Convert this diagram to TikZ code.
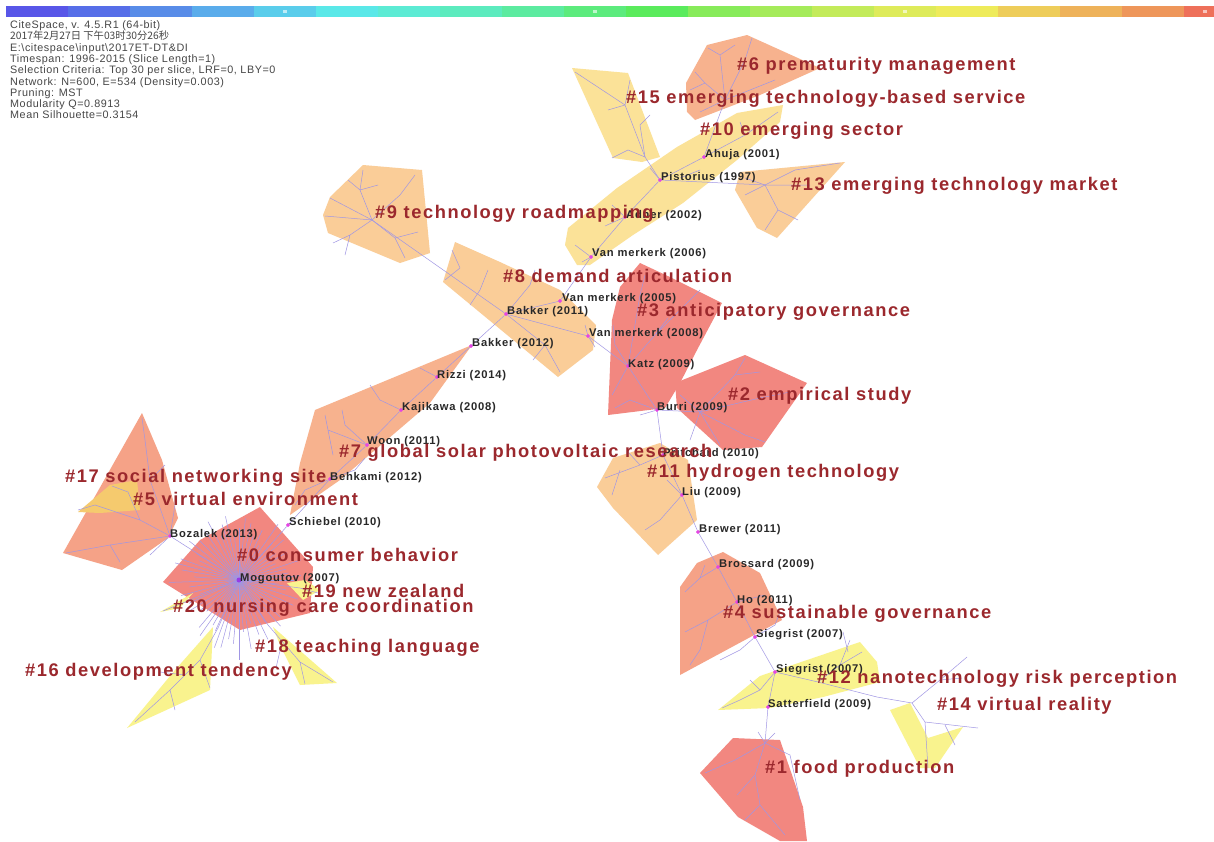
\documentclass[tikz,border=0pt]{standalone}
\usepackage{fontspec}
\setmainfont{Liberation Sans}
\newfontfamily\lblfam[LetterSpace=8.5]{Liberation Sans}
\newfontfamily\nodefam[LetterSpace=7]{Liberation Sans}
\newfontfamily\hdrfam[LetterSpace=5]{Liberation Sans}
\newfontfamily\cjkfam{Noto Sans CJK SC}

\definecolor{labred}{RGB}{155,40,45}
\definecolor{hdrgray}{RGB}{70,70,70}
\definecolor{nodetext}{RGB}{40,40,40}
\definecolor{edgec}{RGB}{160,150,228}
\definecolor{dotc}{RGB}{228,70,228}
\definecolor{hubc}{RGB}{150,60,230}
\definecolor{hred}{RGB}{242,135,128}
\definecolor{hsalmon}{RGB}{245,162,135}
\definecolor{horange}{RGB}{247,178,142}
\definecolor{hpeach}{RGB}{250,205,152}
\definecolor{hlight}{RGB}{251,226,152}
\definecolor{hyellow}{RGB}{249,243,142}
\definecolor{hamber}{RGB}{245,202,110}

\begin{document}
\begin{tikzpicture}[x=1pt,y=-1pt,
  edge/.style={draw=edgec,line width=0.5pt},
  dot/.style={circle,fill=dotc,inner sep=0pt,minimum size=3.6pt},
  hubdot/.style={circle,fill=hubc,inner sep=0pt,minimum size=5pt},
  nlabel/.style={anchor=base west,inner sep=0pt,text=nodetext,
    font=\nodefam\bfseries\fontsize{11.2}{12}\selectfont},
  clabel/.style={anchor=base west,inner sep=0pt,text=labred,
    font=\lblfam\bfseries\fontsize{18.3}{20}\selectfont},
  hdr/.style={anchor=base west,inner sep=0pt,text=hdrgray,
    font=\hdrfam\fontsize{10.8}{11}\selectfont}]

\path[use as bounding box,fill=white] (0,0) rectangle (1214,841);

% ---------- colour scale ----------
\foreach \r/\g/\b [count=\i from 0] in {88/86/232,86/110/232,88/140/232,90/172/235,90/205/235,
   90/232/232,92/235/212,92/235/190,92/235/160,92/235/125,90/235/92,135/235/90,165/235/90,
   195/235/90,222/235/90,238/235/90,238/205/90,238/178/90,238/150/90,238/112/90}{
  \definecolor{barc}{RGB}{\r,\g,\b}
  \fill[barc] ({6+62*\i},6) rectangle ({min(6+62*(\i+1),1214)},17);
}
\foreach \x in {285,595,905,1205}
  \fill[white,opacity=0.6] (\x-2,10) rectangle (\x+2,13);

% ---------- header ----------
\node[hdr] (h1) at (10,28.5) {CiteSpace, v. 4.5.R1 (64-bit)};
\node[anchor=base west,inner sep=0pt,text=hdrgray,font=\cjkfam\fontsize{10.3}{11}\selectfont] (h2) at (10,39.8) {2017年2月27日 下午03时30分26秒};
\node[hdr] (h3) at (10,51.1) {E:\textbackslash citespace\textbackslash input\textbackslash 2017ET-DT\&DI};
\node[hdr] (h4) at (10,62.4) {Timespan: 1996-2015 (Slice Length=1)};
\node[hdr] (h5) at (10,73.7) {Selection Criteria: Top 30 per slice, LRF=0, LBY=0};
\node[hdr] (h6) at (10,85) {Network: N=600, E=534 (Density=0.003)};
\node[hdr] (h7) at (10,96.3) {Pruning: MST};
\node[hdr] (h8) at (10,107.6) {Modularity Q=0.8913};
\node[hdr] (h9) at (10,118.9) {Mean Silhouette=0.3154};

% ---------- cluster hulls ----------
\fill[hlight]  (572,68) -- (628,73) -- (660,157) -- (642,162) -- (613,158) -- cycle;        % 15
\fill[horange] (707,45) -- (747,35) -- (820,68) -- (760,95) -- (695,120) -- (687,112) -- (686,83) -- cycle; % 6
\fill[hlight]  (568,228) -- (617,188) -- (677,147) -- (737,113) -- (783,105) -- (780,122) -- (737,160) -- (683,203) -- (633,235) -- (590,265) -- (577,265) -- (565,245) -- cycle; % 10
\fill[hpeach]  (740,172) -- (845,162) -- (777,238) -- (757,228) -- (735,190) -- cycle;      % 13
\fill[hpeach]  (363,165) -- (422,170) -- (430,253) -- (400,263) -- (328,233) -- (323,215) -- (330,197) -- cycle; % 9
\fill[hpeach]  (455,242) -- (500,262) -- (560,290) -- (596,325) -- (593,350) -- (558,377) -- (443,282) -- cycle; % 8
\fill[hred]    (640,263) -- (672,278) -- (722,303) -- (697,350) -- (680,383) -- (665,408) -- (608,415) -- (612,320) -- (620,287) -- cycle; % 3
\fill[hred]    (675,383) -- (745,355) -- (807,383) -- (762,447) -- (723,450) -- (677,408) -- cycle; % 2
\fill[hpeach]  (660,443) -- (688,460) -- (697,520) -- (658,555) -- (613,508) -- (597,487) -- (613,458) -- cycle; % 11
\fill[hsalmon] (680,587) -- (697,563) -- (723,552) -- (760,573) -- (782,620) -- (680,675) -- cycle; % 4
\fill[hyellow] (718,710) -- (760,676) -- (860,642) -- (877,662) -- (880,682) -- (823,697) -- (770,708) -- cycle; % 12
\fill[hyellow] (890,710) -- (910,703) -- (928,738) -- (963,727) -- (935,768) -- (920,768) -- cycle; % 14
\fill[hred]    (733,738) -- (780,740) -- (803,807) -- (807,841) -- (780,841) -- (738,817) -- (700,773) -- cycle; % 1
\fill[horange] (472,345) -- (315,410) -- (300,463) -- (290,515) -- (340,480) -- (430,403) -- cycle; % 7
\fill[hsalmon] (142,413) -- (162,460) -- (178,518) -- (168,538) -- (122,570) -- (63,553) -- cycle; % 17
\fill[hamber]  (78,512) -- (110,485) -- (137,480) -- (140,510) -- (100,513) -- cycle;        % 5
\fill[hred]    (260,507) -- (313,567) -- (310,613) -- (240,630) -- (163,582) -- (200,540) -- cycle; % 0
\fill[hyellow] (287,583) -- (305,580) -- (320,590) -- (303,600) -- cycle;                    % 19
\fill[hyellow] (160,612) -- (193,593) -- (180,608) -- cycle;                                 % 20
\fill[hyellow] (213,627) -- (210,690) -- (127,728) -- (175,670) -- cycle;                    % 16
\fill[hyellow] (273,627) -- (337,683) -- (300,685) -- (280,645) -- cycle;                    % 18

% ---------- cited references ----------
\coordinate (hub9)  at (372,220);
\coordinate (hub15) at (645,157);
\coordinate (hub6)  at (725,100);
\coordinate (hub13) at (765,185);
\coordinate (hub2)  at (700,412);
\coordinate (hub14) at (912,703);
\coordinate (hub1)  at (765,743);

\node[dot] (ahuja)       at (704,157) {};
\node[dot] (pistorius)   at (660,180) {};
\node[dot] (adner)       at (625,217) {};
\node[dot] (vm06)        at (591,257) {};
\node[dot] (vm05)        at (560,301) {};
\node[dot] (bakker11)    at (506,314) {};
\node[dot] (vm08)        at (588,336) {};
\node[dot] (bakker12)    at (471,346) {};
\node[dot] (rizzi)       at (437,377) {};
\node[dot] (kajikawa)    at (401,410) {};
\node[dot] (woon)        at (367,445) {};
\node[dot] (behkami)     at (330,479) {};
\node[dot] (schiebel)    at (288,525) {};
\node[dot] (bozalek)     at (170,536) {};
\node[dot] (katz)        at (628,366) {};
\node[dot] (burri)       at (657,410) {};
\node[dot] (pritchard)   at (663,455) {};
\node[dot] (liu)         at (682,495) {};
\node[dot] (brewer)      at (698,532) {};
\node[dot] (brossard)    at (718,567) {};
\node[dot] (ho)          at (737,602) {};
\node[dot] (siegrist1)   at (755,637) {};
\node[dot] (siegrist2)   at (775,672) {};
\node[dot] (satterfield) at (768,707) {};
\coordinate (mogoutov) at (239,580);

% ---------- links ----------
\begin{scope}[edge]
% backbone
\draw (hub9) -- (bakker11) -- (vm05) -- (vm06) -- (adner) -- (pistorius) -- (ahuja);
\draw (bakker11) -- (bakker12) -- (rizzi) -- (kajikawa) -- (woon) -- (behkami) -- (schiebel) -- (mogoutov);
\draw (bakker11) -- (vm08) -- (katz) -- (burri) -- (pritchard) -- (liu) -- (brewer) -- (brossard)
      -- (ho) -- (siegrist1) -- (siegrist2) -- (satterfield) -- (hub1);
\draw (mogoutov) -- (bozalek);
\draw (pistorius) -- (hub15);
\draw (pistorius) -- (hub13);
\draw (ahuja) -- (hub6);
\draw (burri) -- (hub2);
% #9
\draw (hub9) -- (330,198) (hub9) -- (325,216);
\draw (hub9) -- (360,190) -- (363,170) (360,190) -- (348,180) (360,190) -- (378,185);
\draw (hub9) -- (400,195) -- (415,175);
\draw (hub9) -- (350,235) -- (345,255) (350,235) -- (333,243);
\draw (hub9) -- (395,238) -- (418,232) (395,238) -- (405,258);
% #8
\draw (460,268) -- (452,250) (460,268) -- (445,280);
\draw (480,290) -- (488,270) (480,290) -- (470,305);
\draw (bakker11) -- (530,285) -- (535,270);
\draw (bakker11) -- (545,345) -- (560,372) (545,345) -- (533,360);
\draw (vm08) -- (595,347) (vm08) -- (585,325);
% #10
\draw (vm06) -- (575,245) (vm06) -- (582,262);
\draw (adner) -- (605,226) (adner) -- (612,205);
\draw (pistorius) -- (650,168);
\draw (ahuja) -- (745,135) -- (778,112) (745,135) -- (740,122);
\draw (680,178) -- (700,170);
% #15
\draw (hub15) -- (625,105) -- (575,72) (625,105) -- (630,80) (625,105) -- (608,110);
\draw (hub15) -- (628,150) -- (612,158);
\draw (hub15) -- (640,125) -- (650,115);
% #6
\draw (hub6) -- (705,83) -- (695,72) (705,83) -- (690,90);
\draw (hub6) -- (720,55) -- (708,48) (720,55) -- (735,45);
\draw (hub6) -- (745,60) -- (752,38);
\draw (hub6) -- (775,80) (hub6) -- (700,112);
% #13
\draw (hub13) -- (745,178) (hub13) -- (745,195) (hub13) -- (810,185);
\draw (hub13) -- (795,170) -- (840,163);
\draw (hub13) -- (778,210) -- (765,230) (778,210) -- (798,220);
% #3
\draw (katz) -- (615,345) -- (613,325);
\draw (katz) -- (655,335) -- (690,300) -- (700,290) (655,335) -- (668,318);
\draw (katz) -- (640,295) -- (645,275);
\draw (katz) -- (612,395);
\draw (burri) -- (630,400) -- (615,408) (burri) -- (640,415);
% #2
\draw (hub2) -- (680,395);
\draw (hub2) -- (735,375) -- (745,358) (735,375) -- (760,372);
\draw (hub2) -- (760,398) -- (790,392);
\draw (hub2) -- (745,435) -- (765,442);
\draw (hub2) -- (690,440) (hub2) -- (720,445);
% #11
\draw (pritchard) -- (640,465) -- (605,478) (640,465) -- (628,452);
\draw (620,470) -- (612,495);
\draw (liu) -- (660,520) -- (645,530) (liu) -- (667,480);
% #4
\draw (brossard) -- (700,578) -- (685,592) (700,578) -- (705,565);
\draw (ho) -- (708,620) -- (685,632) (708,620) -- (700,650) -- (690,665);
\draw (ho) -- (765,595);
\draw (siegrist1) -- (775,625) -- (780,612);
\draw (siegrist1) -- (740,650) -- (720,660);
% #12
\draw (siegrist2) -- (760,690) -- (740,700) -- (722,708) (760,690) -- (750,680);
\draw (siegrist2) -- (818,682) -- (877,697) -- (hub14);
\draw (818,682) -- (840,665) -- (850,640) (840,665) -- (862,652);
\draw (843,632) -- (848,652);
% #14
\draw (hub14) -- (940,680) -- (967,657) (940,680) -- (962,678);
\draw (hub14) -- (925,722) -- (978,728) (925,722) -- (928,768);
\draw (945,725) -- (955,745);
% #1
\draw (hub1) -- (735,760) -- (705,773);
\draw (hub1) -- (790,755) -- (800,800);
\draw (hub1) -- (755,775) -- (760,805) -- (745,820) (760,805) -- (785,835);
\draw (755,775) -- (737,795);
\draw (hub1) -- (758,732) (hub1) -- (775,733);
% #7
\draw (rizzi) -- (420,368);
\draw (kajikawa) -- (380,400) -- (370,385);
\draw (woon) -- (328,430) -- (325,415) (328,430) -- (333,455);
\draw (woon) -- (345,425) -- (342,410);
\draw (behkami) -- (305,490) -- (295,505);
\draw (behkami) -- (355,470) -- (365,458);
% #17
\draw (bozalek) -- (140,520) -- (95,505) -- (78,510) (140,520) -- (128,492) -- (112,486);
\draw (bozalek) -- (150,480) -- (145,440) -- (142,418) (150,480) -- (165,465);
\draw (bozalek) -- (110,545) -- (66,553) (110,545) -- (120,562);
\draw (bozalek) -- (175,505) (bozalek) -- (150,555);
% #0 star
\foreach \a/\r in {0/55,6/40,12/48,18/62,25/60,30/38,35/45,42/55,48/62,53/40,58/50,64/66,70/58,75/45,
  80/70,85/52,90/80,95/64,100/60,105/70,110/72,115/56,120/52,125/68,130/62,136/45,142/48,148/60,
  155/55,160/42,165/60,172/50,178/70,184/45,190/58,195/66,200/62,206/44,212/50,218/63,225/55,
  230/46,235/60,242/66,248/48,253/58,258/65,264/44,270/52,276/62,282/58,288/46,295/55,300/40,
  305/68,312/50,318/60,324/45,330/55,336/40,342/65,347/48,352/50,356/62}
  \draw (mogoutov) -- ++(\a:\r);
% #16, #18, #19, #20
\draw (mogoutov) -- (218,628) -- (200,660) -- (170,690) -- (135,722);
\draw (200,660) -- (210,688) (185,675) -- (160,672) (170,690) -- (175,710);
\draw (mogoutov) -- (268,625) -- (300,662) -- (333,682) (300,662) -- (305,684) (282,642) -- (276,668);
\draw (mogoutov) -- (300,588) -- (318,593);
\draw (mogoutov) -- (195,598) -- (163,611);
\end{scope}

\node[hubdot] (mogdot) at (mogoutov) {};
% redraw the labelled dots above the links
\foreach \n in {ahuja,pistorius,adner,vm06,vm05,bakker11,vm08,bakker12,rizzi,kajikawa,woon,behkami,
  schiebel,bozalek,katz,burri,pritchard,liu,brewer,brossard,ho,siegrist1,siegrist2,satterfield}
  \fill[dotc] (\n) circle (1.8);

% ---------- reference labels ----------
\node[nlabel] (l-ahuja)     at (705,157) {Ahuja (2001)};
\node[nlabel] (l-pistorius) at (661,180) {Pistorius (1997)};
\node[nlabel] (l-adner)     at (626,218) {Adner (2002)};
\node[nlabel] (l-vm06)      at (592,256.5) {Van merkerk (2006)};
\node[nlabel] (l-vm05)      at (562,301) {Van merkerk (2005)};
\node[nlabel] (l-bakker11)  at (507,314) {Bakker (2011)};
\node[nlabel] (l-vm08)      at (589,336) {Van merkerk (2008)};
\node[nlabel] (l-bakker12)  at (472,346) {Bakker (2012)};
\node[nlabel] (l-rizzi)     at (437,378) {Rizzi (2014)};
\node[nlabel] (l-kajikawa)  at (402,410) {Kajikawa (2008)};
\node[nlabel] (l-woon)      at (367,444) {Woon (2011)};
\node[nlabel] (l-behkami)   at (330,480) {Behkami (2012)};
\node[nlabel] (l-schiebel)  at (289,525) {Schiebel (2010)};
\node[nlabel] (l-bozalek)   at (170,537) {Bozalek (2013)};
\node[nlabel] (l-mogoutov)  at (240,581) {Mogoutov (2007)};
\node[nlabel] (l-katz)      at (628,367) {Katz (2009)};
\node[nlabel] (l-burri)     at (657,410.5) {Burri (2009)};
\node[nlabel] (l-pritchard) at (663,456) {Pritchard (2010)};
\node[nlabel] (l-liu)       at (682,495.5) {Liu (2009)};
\node[nlabel] (l-brewer)    at (699,532) {Brewer (2011)};
\node[nlabel] (l-brossard)  at (719,567) {Brossard (2009)};
\node[nlabel] (l-ho)        at (737,603) {Ho (2011)};
\node[nlabel] (l-siegrist1) at (756,637) {Siegrist (2007)};
\node[nlabel] (l-siegrist2) at (776,672) {Siegrist (2007)};
\node[nlabel] (l-satter)    at (768,707) {Satterfield (2009)};

% ---------- cluster labels ----------
\node[clabel] (c6)  at (737,70)    {\#6 prematurity management};
\node[clabel] (c15) at (626,103.5) {\#15 emerging technology-based service};
\node[clabel] (c10) at (700,135)   {\#10 emerging sector};
\node[clabel] (c13) at (791,190.5) {\#13 emerging technology market};
\node[clabel] (c9)  at (375,218.5) {\#9 technology roadmapping};
\node[clabel] (c8)  at (503,282)   {\#8 demand articulation};
\node[clabel] (c3)  at (637,316)   {\#3 anticipatory governance};
\node[clabel] (c2)  at (728,400)   {\#2 empirical study};
\node[clabel] (c7)  at (339,457)   {\#7 global solar photovoltaic research};
\node[clabel] (c11) at (647,477)   {\#11 hydrogen technology};
\node[clabel] (c17) at (65,482)    {\#17 social networking site};
\node[clabel] (c5)  at (133,505)   {\#5 virtual environment};
\node[clabel] (c0)  at (237,561)   {\#0 consumer behavior};
\node[clabel] (c19) at (302,597)   {\#19 new zealand};
\node[clabel] (c20) at (173,612)   {\#20 nursing care coordination};
\node[clabel] (c18) at (255,652)   {\#18 teaching language};
\node[clabel] (c16) at (25,676)    {\#16 development tendency};
\node[clabel] (c4)  at (723,618)   {\#4 sustainable governance};
\node[clabel] (c12) at (817,683.5) {\#12 nanotechnology risk perception};
\node[clabel] (c14) at (937,710)   {\#14 virtual reality};
\node[clabel] (c1)  at (765,773)   {\#1 food production};
\end{tikzpicture}
\end{document}
